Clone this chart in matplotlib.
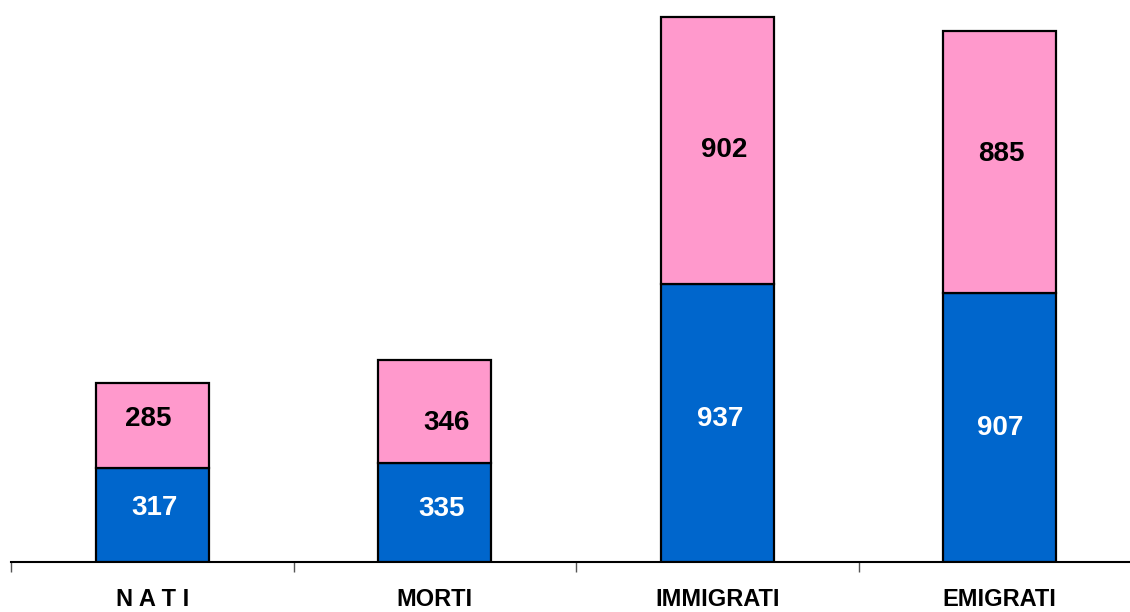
import matplotlib
matplotlib.use("Agg")
import matplotlib.pyplot as plt
import numpy as np

categories = ["N A T I", "MORTI", "IMMIGRATI", "EMIGRATI"]
blue_vals = [317, 335, 937, 907]
pink_vals = [285, 346, 902, 885]

# small manual label nudges (pixels: dx right, dy up), as in the original layout
blue_nudge = [(2, 7), (7, 3), (3, 4), (0, 0)]
pink_nudge = [(-4, 7), (12, -12), (7, 0), (2, 8)]

plt.rcParams['font.family'] = ['Liberation Sans', 'DejaVu Sans']

W, H = 1130, 612
fig = plt.figure(figsize=(W / 100, H / 100), dpi=100)
left_px, right_px, base_px = 11, 1141, 562
ax = fig.add_axes([left_px / W, (H - base_px) / H, (right_px - left_px) / W, base_px / H])

x = np.arange(len(categories))
bw = 0.4
ax.bar(x, blue_vals, bw, color="#0066CC", edgecolor="black", linewidth=1.6, zorder=3)
ax.bar(x, pink_vals, bw, bottom=blue_vals, color="#FF99CC", edgecolor="black", linewidth=1.6, zorder=3)

pt = 0.72
for i in range(len(categories)):
    b = blue_vals[i]
    p = pink_vals[i]
    ax.annotate(str(b), (x[i], b / 2), xytext=(blue_nudge[i][0] * pt, blue_nudge[i][1] * pt),
                textcoords="offset points", ha="center", va="center", color="white",
                fontsize=20, fontweight="bold", zorder=4)
    ax.annotate(str(p), (x[i], b + p / 2), xytext=(pink_nudge[i][0] * pt, pink_nudge[i][1] * pt),
                textcoords="offset points", ha="center", va="center", color="black",
                fontsize=20, fontweight="bold", zorder=4)

ax.set_xlim(-0.5, len(categories) - 0.5)
ax.set_ylim(0, 1895)

for s in ["top", "right", "left"]:
    ax.spines[s].set_visible(False)
ax.spines["bottom"].set_linewidth(1.5)
ax.spines["bottom"].set_color("black")
ax.set_yticks([])

ax.set_xticks(x)
ax.set_xticklabels(categories, fontsize=17, fontweight="bold")
ax.tick_params(axis="x", which="major", length=0, pad=19)
ax.set_xticks(np.arange(-0.5, len(categories) + 0.5, 1), minor=True)
ax.tick_params(axis="x", which="minor", length=7, width=1, color="#555555")

fig.savefig("out.png", dpi=100)
